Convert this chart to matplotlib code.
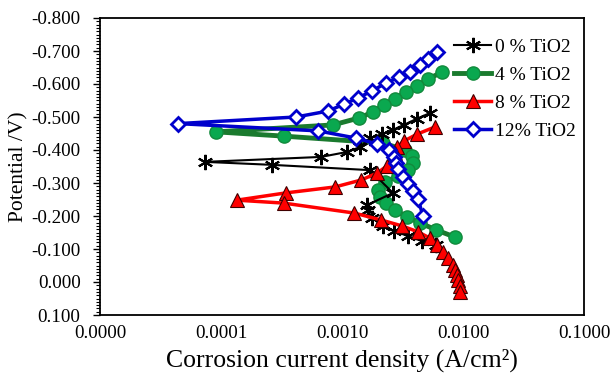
import matplotlib
matplotlib.use("Agg")
import matplotlib.pyplot as plt
from matplotlib.ticker import FixedLocator, MultipleLocator, FuncFormatter

plt.rcParams['font.family'] = ['Liberation Serif', 'DejaVu Serif']

# 0 % TiO2
x0 = [0.00533, 0.00417, 0.00325, 0.00264, 0.00214, 0.00170, 0.00141, 0.00110, 0.000670,
      7.38e-5, 0.000264, 0.00170, 0.00264, 0.00161, 0.00163, 0.00177, 0.00218, 0.00269,
      0.00351, 0.00458, 0.00598]
y0 = [-0.512, -0.495, -0.476, -0.461, -0.448, -0.436, -0.409, -0.394, -0.379,
      -0.364, -0.355, -0.339, -0.270, -0.233, -0.218, -0.194, -0.170, -0.155,
      -0.139, -0.124, -0.112]

# 4 % TiO2
x4 = [0.00670, 0.00514, 0.00417, 0.00338, 0.00274, 0.00222, 0.00180, 0.00138, 0.000844,
      9.10e-5, 0.000332, 0.00218, 0.00332, 0.00379, 0.00387, 0.00351, 0.00290, 0.00226,
      0.00198, 0.00206, 0.00231, 0.00274, 0.00344, 0.00442, 0.00598, 0.00859]
y4 = [-0.636, -0.615, -0.594, -0.576, -0.555, -0.536, -0.515, -0.497, -0.476,
      -0.455, -0.442, -0.421, -0.400, -0.382, -0.361, -0.339, -0.321, -0.303,
      -0.279, -0.258, -0.239, -0.218, -0.197, -0.179, -0.158, -0.136]

# 8 % TiO2
x8 = [0.00588, 0.00417, 0.00325, 0.00285, 0.00274, 0.00259, 0.00236, 0.00195, 0.00144,
      0.000875, 0.000344, 0.000135, 0.000332, 0.00126, 0.00210, 0.00313, 0.00425,
      0.00533, 0.00610, 0.00684, 0.00752, 0.00826, 0.00859, 0.00891, 0.00910, 0.00944,
      0.00944]
y8 = [-0.470, -0.448, -0.427, -0.409, -0.391, -0.370, -0.352, -0.330, -0.309,
      -0.288, -0.270, -0.248, -0.239, -0.209, -0.188, -0.170, -0.152,
      -0.133, -0.112, -0.091, -0.073, -0.052, -0.036, -0.021, -0.006, 0.012,
      0.030]

# 12 % TiO2
x12 = [0.00610, 0.00514, 0.00442, 0.00365, 0.00296, 0.00231, 0.00177, 0.00136, 0.00104,
       0.000766, 0.000417, 4.42e-5, 0.000634, 0.00131, 0.00195, 0.00244, 0.00269,
       0.00280, 0.00290, 0.00319, 0.00351, 0.00386, 0.00425, 0.00467]
y12 = [-0.697, -0.676, -0.658, -0.636, -0.621, -0.603, -0.579, -0.558, -0.539,
       -0.518, -0.500, -0.480, -0.458, -0.436, -0.418, -0.400, -0.379,
       -0.360, -0.342, -0.318, -0.297, -0.276, -0.252, -0.200]

labels = ['0 % TiO2', '4 % TiO2', '8 % TiO2', '12% TiO2']
xticks = [0.00001, 0.0001, 0.001, 0.01, 0.1]
xticklabels = ['0.0000', '0.0001', '0.0010', '0.0100', '0.1000']

fig = plt.figure(figsize=(6.13, 3.80), dpi=100)
ax = fig.add_axes([100/613, 1-315/380, 484/613, 297/380])

ax.plot(x0, y0, color='black', lw=1.5, marker=(6, 2, 0), ms=11, mew=1.5,
        mec='black', label=labels[0], zorder=3)
ax.plot(x4, y4, color='#1a7a2e', lw=3.5, marker='o', ms=9.5, mfc='#0aa84f',
        mec='#128a3c', mew=1, label=labels[1], zorder=2)
ax.plot(x8, y8, color='#ff0000', lw=2.5, marker='^', ms=9.5, mfc='#ff0000',
        mec='#400000', mew=0.8, label=labels[2], zorder=4)
ax.plot(x12, y12, color='#0000cc', lw=2.5, marker='D', ms=7, mfc='white',
        mec='#0000cc', mew=2, label=labels[3], zorder=5)

ax.set_xscale('log')
ax.set_xlim(1e-5, 0.1)
ax.set_ylim(0.1, -0.8)
ax.xaxis.set_major_locator(FixedLocator(xticks))
ax.set_xticklabels(xticklabels)
ax.xaxis.set_minor_locator(FixedLocator([]))
ax.tick_params(axis='x', which='both', length=0, pad=7, labelsize=13.7)

ax.yaxis.set_major_locator(MultipleLocator(0.1))
ax.yaxis.set_minor_locator(MultipleLocator(0.01))
ax.yaxis.set_major_formatter(FuncFormatter(lambda v, p: '%.3f' % (0.0 if abs(v) < 1e-9 else v)))
ax.tick_params(axis='y', which='major', length=5, width=1, direction='out', labelsize=13.7, pad=9)
ax.tick_params(axis='y', which='minor', length=3, width=0.8, direction='out')

for s in ax.spines.values():
    s.set_linewidth(1.3)

ax.set_xlabel('Corrosion current density (A/cm²)', fontsize=18.5, labelpad=5)
ax.set_ylabel('Potential /V)', fontsize=15.5, labelpad=2)

leg = ax.legend(loc='upper right', frameon=False, fontsize=14, handlelength=1.95,
                handletextpad=0.2, labelspacing=0.53, borderaxespad=0.0,
                bbox_to_anchor=(1.0, 0.958))

fig.savefig('out.png', dpi=100)
